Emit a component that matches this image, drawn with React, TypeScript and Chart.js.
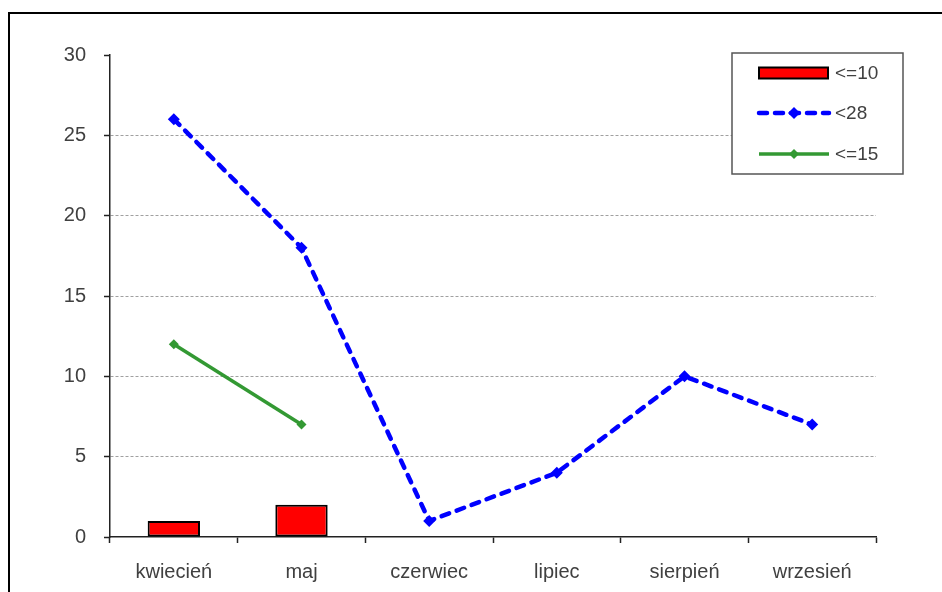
import React, { useEffect, useRef } from "react";
import { Chart, registerables } from "chart.js";

Chart.register(...registerables);

const categories = ["kwiecień", "maj", "czerwiec", "lipiec", "sierpień", "wrzesień"];
const seriesLe10: (number | null)[] = [1, 2, null, null, null, null];
const seriesLt28: (number | null)[] = [26, 18, 1, 4, 10, 7];
const seriesLe15: (number | null)[] = [12, 7, null, null, null, null];
const seriesNames = ["<=10", "<28", "<=15"];
const yTicks = [0, 5, 10, 15, 20, 25, 30];

const FONT = "'Liberation Sans', Arial, sans-serif";
const TEXT = "#404040";

const legendPlugin = {
  id: "boxLegend",
  afterDraw(chart: any) {
    const ctx = chart.ctx as CanvasRenderingContext2D;
    const ds = chart.data.datasets;
    ctx.save();
    const bx = 732, by = 53, bw = 171, bh = 121;
    ctx.fillStyle = "#ffffff";
    ctx.fillRect(bx, by, bw, bh);
    ctx.strokeStyle = "#555555";
    ctx.lineWidth = 1.5;
    ctx.strokeRect(bx, by, bw, bh);
    const rows = [73, 113, 154];
    ds.forEach((d: any, i: number) => {
      const y = rows[i];
      if (d.type === "bar" || !d.type) {
        ctx.fillStyle = d.backgroundColor;
        ctx.fillRect(759, y - 5.5, 69, 11);
        ctx.strokeStyle = d.borderColor;
        ctx.lineWidth = 2;
        ctx.strokeRect(759, y - 5.5, 69, 11);
      } else {
        ctx.strokeStyle = d.borderColor;
        ctx.lineWidth = d.borderWidth;
        ctx.lineCap = d.borderCapStyle || "butt";
        ctx.setLineDash(d.borderDash || []);
        ctx.beginPath();
        ctx.moveTo(759, y);
        ctx.lineTo(829, y);
        ctx.stroke();
        ctx.setLineDash([]);
        ctx.fillStyle = d.pointBackgroundColor;
        const r = d.pointRadius;
        ctx.beginPath();
        ctx.moveTo(794, y - r);
        ctx.lineTo(794 + r, y);
        ctx.lineTo(794, y + r);
        ctx.lineTo(794 - r, y);
        ctx.closePath();
        ctx.fill();
      }
      ctx.fillStyle = TEXT;
      ctx.font = `19px ${FONT}`;
      ctx.textAlign = "left";
      ctx.textBaseline = "middle";
      ctx.fillText(seriesNames[i], 835, y + 1);
    });
    ctx.restore();
  },
};

export default function App() {
  const ref = useRef<HTMLCanvasElement | null>(null);

  useEffect(() => {
    if (!ref.current) return;
    const chart = new Chart(ref.current, {
      type: "bar",
      data: {
        labels: categories,
        datasets: [
          {
            type: "bar",
            label: seriesNames[0],
            data: seriesLe10,
            backgroundColor: "#ff0000",
            borderColor: "#000000",
            borderWidth: 2,
            borderSkipped: false,
            categoryPercentage: 1,
            barPercentage: 0.41,
            order: 3,
          } as any,
          {
            type: "line",
            label: seriesNames[1],
            data: seriesLt28,
            borderColor: "#0000ff",
            backgroundColor: "#0000ff",
            pointBackgroundColor: "#0000ff",
            pointBorderColor: "#0000ff",
            borderWidth: 4.5,
            borderDash: [8, 8],
            borderCapStyle: "round",
            pointStyle: "rectRot",
            pointRadius: 6,
            pointBorderWidth: 0,
            tension: 0,
            order: 1,
          } as any,
          {
            type: "line",
            label: seriesNames[2],
            data: seriesLe15,
            borderColor: "#339933",
            backgroundColor: "#339933",
            pointBackgroundColor: "#339933",
            pointBorderColor: "#339933",
            borderWidth: 3.5,
            pointStyle: "rectRot",
            pointRadius: 5,
            pointBorderWidth: 0,
            tension: 0,
            order: 2,
          } as any,
        ],
      },
      options: {
        animation: false,
        responsive: false,
        maintainAspectRatio: false,
        layout: { padding: { top: 55, right: 66, left: 0, bottom: 0 } },
        plugins: {
          legend: { display: false },
          tooltip: { enabled: false },
        },
        scales: {
          x: {
            offset: true,
            grid: {
              offset: true,
              drawOnChartArea: false,
              drawTicks: true,
              tickLength: 6,
              tickColor: "#222222",
              tickWidth: 1.5,
            },
            border: { display: true, color: "#222222", width: 1.5 },
            ticks: {
              color: TEXT,
              font: { family: FONT, size: 20 },
              padding: 17,
              maxRotation: 0,
            },
            afterFit(scale: any) {
              scale.height = 55;
            },
          },
          y: {
            min: 0,
            max: 30,
            afterBuildTicks(scale: any) {
              scale.ticks = yTicks.map((v) => ({ value: v }));
            },
            grid: {
              drawTicks: true,
              tickLength: 6,
              tickColor: "#222222",
              tickWidth: 1.5,
              lineWidth: 1,
              color: (c: any) =>
                c.tick && (c.tick.value === 0 || c.tick.value === 30) ? "rgba(0,0,0,0)" : "#a0a0a0",
            },
            border: { display: true, color: "#222222", width: 1.5, dash: [3, 2] },
            ticks: {
              color: TEXT,
              font: { family: FONT, size: 20 },
              padding: 18,
            },
            afterFit(scale: any) {
              scale.width = 110;
            },
          },
        },
      },
      plugins: [legendPlugin],
    });
    return () => chart.destroy();
  }, []);

  return (
    <div>
      <div
        style={{
          position: "fixed",
          left: 8,
          top: 12,
          width: 1000,
          height: 700,
          border: "2px solid #000",
          boxSizing: "border-box",
        }}
      />
      <canvas
        ref={ref}
        width={942}
        height={592}
        style={{ position: "fixed", left: 0, top: 0, width: 942, height: 592 }}
      />
    </div>
  );
}
